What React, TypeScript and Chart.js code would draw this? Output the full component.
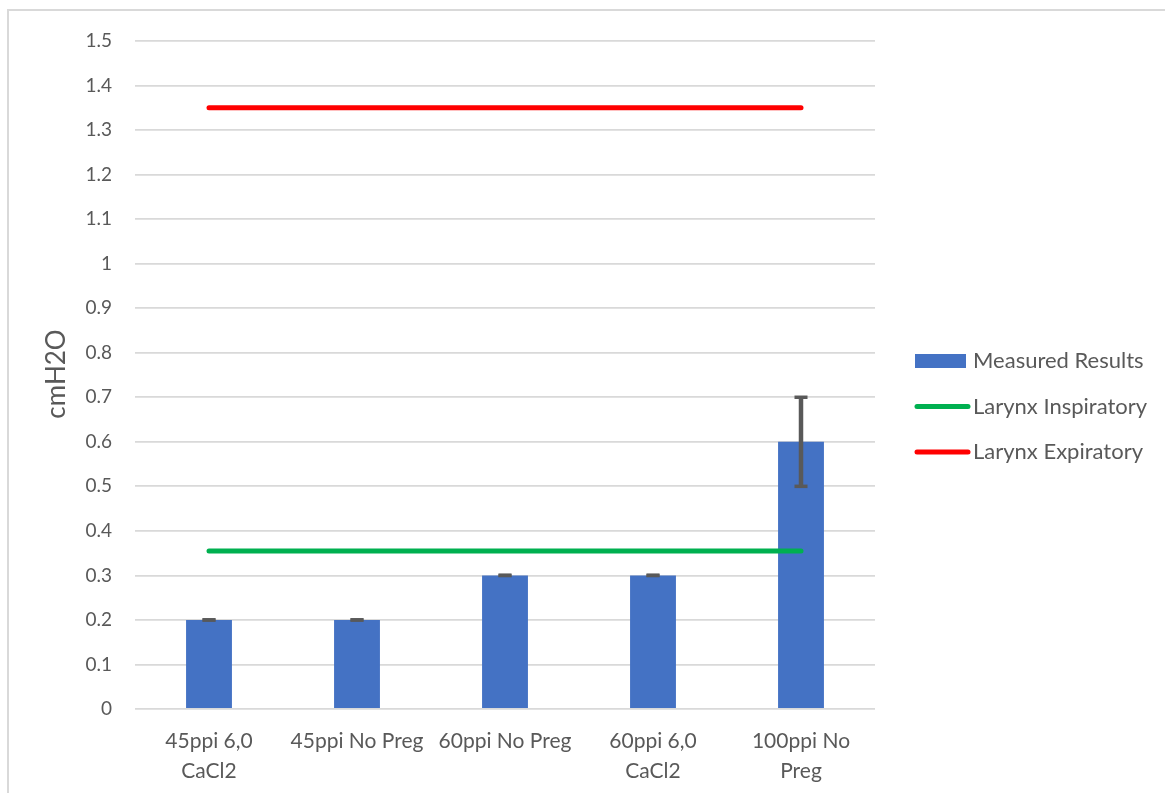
import React, { useEffect, useRef } from "react";
import { Chart, registerables } from "chart.js";

Chart.register(...registerables);

// ---- data ----
const categories: (string | string[])[] = [
  ["45ppi 6,0", "CaCl2"],
  "45ppi No Preg",
  "60ppi No Preg",
  ["60ppi 6,0", "CaCl2"],
  ["100ppi No", "Preg"],
];
const measuredResults = [0.2, 0.2, 0.3, 0.3, 0.6];
const measuredErrors = [0, 0, 0, 0, 0.1];
const larynxInspiratory = [0.355, 0.355, 0.355, 0.355, 0.355];
const larynxExpiratory = [1.35, 1.35, 1.35, 1.35, 1.35];
const yMin = 0;
const yMax = 1.5;
const yStep = 0.1;
const yAxisTitle = "cmH2O";
const seriesLabels = ["Measured Results", "Larynx Inspiratory", "Larynx Expiratory"];

// ---- style ----
const FONT = "Lato";
const TEXT = "#595959";
const GRID = "#d9d9d9";
const BLUE = "#4472c4";
const GREEN = "#00b050";
const RED = "#ff0000";

const errorBarPlugin = {
  id: "errorBars",
  afterDatasetsDraw(chart: any) {
    const meta = chart.getDatasetMeta(0);
    const ys = chart.scales.y;
    const ctx = chart.ctx;
    ctx.save();
    ctx.strokeStyle = "#595959";
    ctx.lineCap = "butt";
    meta.data.forEach((bar: any, i: number) => {
      const v = measuredResults[i];
      const e = measuredErrors[i];
      const x = bar.x;
      const yTop = ys.getPixelForValue(v + e);
      const yBot = ys.getPixelForValue(v - e);
      if (e > 0) {
        ctx.lineWidth = 4.5;
        ctx.beginPath();
        ctx.moveTo(x, yTop);
        ctx.lineTo(x, yBot);
        ctx.stroke();
      }
      ctx.lineWidth = 3.5;
      const hw = 6.5;
      [yTop, yBot].forEach((yy) => {
        ctx.beginPath();
        ctx.moveTo(x - hw, yy);
        ctx.lineTo(x + hw, yy);
        ctx.stroke();
      });
    });
    ctx.restore();
  },
};

const axisTitlePlugin = {
  id: "axisTitle",
  afterDraw(chart: any) {
    const ctx = chart.ctx;
    const area = chart.chartArea;
    ctx.save();
    ctx.translate(57, (area.top + area.bottom) / 2 - 1);
    ctx.rotate(-Math.PI / 2);
    ctx.font = `26px ${FONT}`;
    ctx.fillStyle = TEXT;
    ctx.textAlign = "center";
    ctx.textBaseline = "middle";
    ctx.fillText(yAxisTitle, 0, 0);
    ctx.restore();
  },
};

const legendPlugin = {
  id: "sideLegend",
  afterDraw(chart: any) {
    const ctx = chart.ctx;
    const area = chart.chartArea;
    const ds = chart.data.datasets;
    const x0 = area.right + 40;
    const symW = 51;
    const textX = x0 + 58;
    const firstY = area.top + 320;
    const gap = 45.5;
    ctx.save();
    ctx.font = `22px ${FONT}`;
    ctx.fillStyle = TEXT;
    ctx.textBaseline = "middle";
    ctx.textAlign = "left";
    ds.forEach((d: any, i: number) => {
      const cy = firstY + i * gap;
      if (d.type === "bar" || !d.type) {
        ctx.fillStyle = d.backgroundColor;
        ctx.fillRect(x0, cy - 7, symW, 14);
      } else {
        ctx.strokeStyle = d.borderColor;
        ctx.lineWidth = d.borderWidth;
        ctx.lineCap = "round";
        ctx.beginPath();
        ctx.moveTo(x0 + 2, cy);
        ctx.lineTo(x0 + symW + 2, cy);
        ctx.stroke();
      }
      ctx.fillStyle = TEXT;
      ctx.fillText(d.label, textX, cy);
    });
    ctx.restore();
  },
};

export default function App() {
  const canvasRef = useRef<HTMLCanvasElement | null>(null);

  useEffect(() => {
    if (!canvasRef.current) return;
    const chart = new Chart(canvasRef.current, {
      type: "bar",
      data: {
        labels: categories as any,
        datasets: [
          {
            type: "bar",
            label: seriesLabels[0],
            data: measuredResults,
            backgroundColor: BLUE,
            borderWidth: 0,
            barPercentage: 0.31,
            categoryPercentage: 1,
            order: 3,
          } as any,
          {
            type: "line",
            label: seriesLabels[1],
            data: larynxInspiratory,
            borderColor: GREEN,
            backgroundColor: GREEN,
            borderWidth: 5,
            borderCapStyle: "round",
            pointRadius: 0,
            fill: false,
            order: 1,
          },
          {
            type: "line",
            label: seriesLabels[2],
            data: larynxExpiratory,
            borderColor: RED,
            backgroundColor: RED,
            borderWidth: 5,
            borderCapStyle: "round",
            pointRadius: 0,
            fill: false,
            order: 0,
          },
        ],
      },
      options: {
        responsive: false,
        animation: false,
        devicePixelRatio: 1,
        layout: { padding: { top: 41, right: 290, bottom: 0, left: 0 } },
        plugins: {
          legend: { display: false },
          tooltip: { enabled: false },
        },
        scales: {
          x: {
            offset: true,
            grid: { display: false, drawTicks: false },
            border: { display: false },
            ticks: {
              color: TEXT,
              font: { family: FONT, size: 21, lineHeight: 1.43 },
              padding: 17,
              maxRotation: 0,
              autoSkip: false,
            },
            afterFit: (s: any) => {
              s.height = 84;
            },
          },
          y: {
            min: yMin,
            max: yMax,
            grid: { color: GRID, lineWidth: 1.8, drawTicks: false },
            border: { display: false },
            ticks: {
              stepSize: yStep,
              color: TEXT,
              font: { family: FONT, size: 19 },
              padding: 23,
              callback: (v: any) => String(Math.round(Number(v) * 10) / 10),
            },
            title: { display: false },
            afterFit: (s: any) => {
              s.width = 135;
            },
          },
        },
      },
      plugins: [errorBarPlugin, axisTitlePlugin, legendPlugin],
    });
    return () => chart.destroy();
  }, []);

  return (
    <div
      style={{
        position: "fixed",
        left: 0,
        top: 0,
        width: 1165,
        height: 793,
        overflow: "hidden",
        background: "#ffffff",
      }}
    >
      <div
        style={{
          position: "absolute",
          left: 7,
          top: 9,
          width: 1200,
          height: 900,
          border: `2px solid ${GRID}`,
          boxSizing: "border-box",
        }}
      />
      <canvas
        ref={canvasRef}
        width={1165}
        height={793}
        style={{ position: "absolute", left: 0, top: 0, width: 1165, height: 793 }}
      />
    </div>
  );
}
